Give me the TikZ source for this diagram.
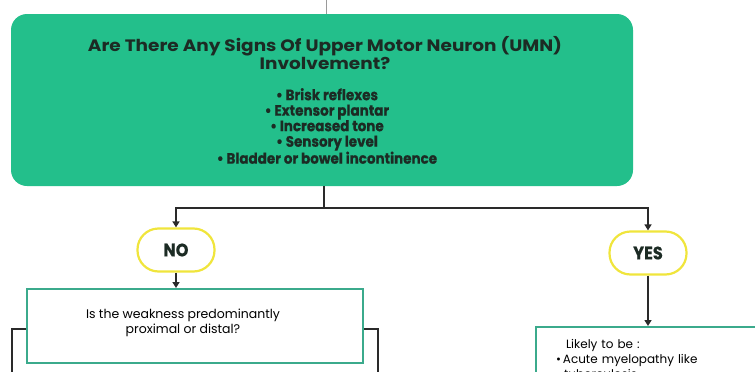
\documentclass[tikz,border=0pt]{standalone}
\usepackage{fontspec}
\setmainfont{Poppins}
\newfontfamily\narrowfont{Poppins}[FakeStretch=0.9, BoldFeatures={FakeBold=0.6}]
\newfontfamily\widefont{Poppins}[FakeStretch=1.12]
\usetikzlibrary{arrows.meta}

\definecolor{umngreen}{HTML}{23BF8B}
\definecolor{boxteal}{HTML}{3BAA8C}
\definecolor{pillyellow}{HTML}{F0E53C}
\definecolor{flowline}{HTML}{2A2A2A}
\definecolor{topgray}{HTML}{9A9A9A}
\definecolor{darktext}{HTML}{1C2B24}

\begin{document}
\begin{tikzpicture}[x=1pt, y=-1pt,
    flow/.style={line width=1.6pt, draw=flowline},
    flowarrow/.style={flow, -{Triangle[length=6pt, width=7pt]}},
    pill/.style={draw=pillyellow, line width=2.2pt, fill=white,
        rounded corners=21pt, minimum width=77pt, minimum height=43pt,
        font=\narrowfont\bfseries\fontsize{18}{20}\selectfont, text=darktext},
    qbox/.style={draw=boxteal, line width=2pt, fill=white}]

    \clip (0,0) rectangle (755,372);

    \node[fill=umngreen, rounded corners=16pt, minimum width=622pt,
        minimum height=172pt] (umn) at (322,100) {};

    \node[font=\widefont\bfseries\fontsize{16.5}{18}\selectfont, text=darktext, align=center]
        (umnq) at (325,53)
        {Are There Any Signs Of Upper Motor Neuron (UMN)\\Involvement?};

    \node[font=\narrowfont\bfseries\fontsize{15}{15.5}\selectfont, text=darktext, align=center]
        (umnsigns) at (327,126)
        {• Brisk reflexes\\• Extensor plantar\\• Increased tone\\• Sensory level\\• Bladder or bowel incontinence};

    \coordinate (top) at (326.5,0);
    \draw[draw=topgray, line width=1.5pt]
        (top) -- (top |- umn.north);

    \node[pill] (no) at (176,250) {NO};

    \node[pill] (yes) at (648,253) {YES};

    \node[qbox, minimum width=336pt, minimum height=74pt] (prox) at (195,326) {};

    \node[font=\fontsize{12.5}{15}\selectfont, align=center]
        (proxq) at (183,323)
        {Is the weakness predominantly\\proximal or distal?};

    \node[qbox, anchor=north west, minimum width=240pt, text width=200pt,
        align=left, inner xsep=18pt, inner ysep=12pt,
        font=\fontsize{12}{15}\selectfont]
        (likely) at (535,326)
        {\hspace*{10pt}Likely to be :\\
        \textbullet\hspace{2pt}Acute myelopathy like\\
        \hspace*{8pt}tuberculosis};

    \coordinate (split) at (324,208);
    \coordinate (leftdrop) at (12,380);
    \coordinate (rightdrop) at (378,380);

    \draw[flow]
        (umn.south -| split) -- (split);

    \draw[flowarrow]
        (split) -| (no.north);

    \draw[flowarrow]
        (split) -| (yes.north);

    \draw[flowarrow]
        (no.south) -- (no.south |- prox.north);

    \draw[flowarrow]
        (yes.south) -- (yes.south |- likely.north);

    \draw[flow]
        ([yshift=-3pt]prox.west) -| (leftdrop);

    \draw[flow]
        ([yshift=-3pt]prox.east) -| (rightdrop);

\end{tikzpicture}
\end{document}
